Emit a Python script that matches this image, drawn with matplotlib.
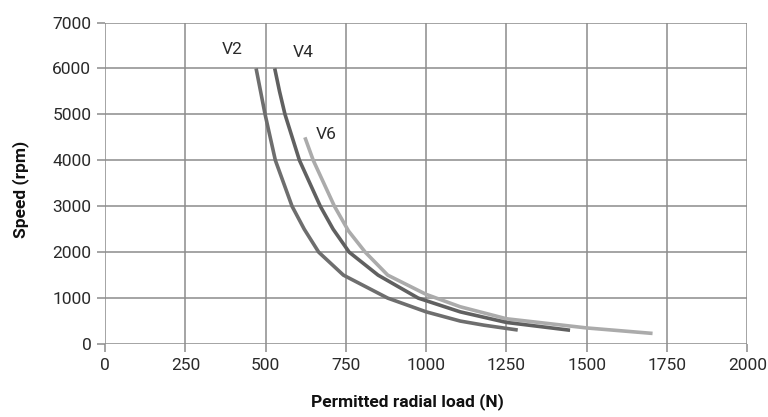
import matplotlib
matplotlib.use('Agg')
import matplotlib.pyplot as plt

# values
v2_load = [470, 484, 498, 530, 582, 620, 665, 742, 880, 1000, 1106, 1180, 1250, 1285]
v2_speed = [6000, 5500, 5000, 4000, 3000, 2500, 2000, 1500, 1000, 700, 500, 410, 340, 305]

v4_load = [528, 543, 560, 605, 670, 710, 760, 850, 975, 1106, 1250, 1448]
v4_speed = [6000, 5500, 5000, 4000, 3000, 2500, 2000, 1500, 1000, 700, 470, 300]

v6_load = [622, 648, 714, 758, 810, 880, 1000, 1106, 1250, 1500, 1705]
v6_speed = [4500, 4000, 3000, 2460, 2000, 1500, 1080, 811, 550, 350, 231]

x_ticks = [0, 250, 500, 750, 1000, 1250, 1500, 1750, 2000]
y_ticks = [0, 1000, 2000, 3000, 4000, 5000, 6000, 7000]

plt.rcParams['font.family'] = ['Roboto', 'DejaVu Sans']

fig = plt.figure(figsize=(7.68, 4.17), dpi=100)
ax = fig.add_axes([0.137, 0.175, 0.836, 0.771])

grid_col = '#8c8c8c'
ax.plot(v6_load, v6_speed, color='#ababab', lw=2.6, solid_capstyle='butt',
        solid_joinstyle='round', zorder=3)
ax.plot(v4_load, v4_speed, color='#606060', lw=2.6, solid_capstyle='butt',
        solid_joinstyle='round', zorder=4)
ax.plot(v2_load, v2_speed, color='#6e6e6e', lw=2.6, solid_capstyle='butt',
        solid_joinstyle='round', zorder=4)

ax.text(397, 6420, 'V2', fontsize=12.5, color='#2a2a2a', ha='center', va='center')
ax.text(616, 6350, 'V4', fontsize=12.5, color='#2a2a2a', ha='center', va='center')
ax.text(688, 4570, 'V6', fontsize=12.5, color='#2a2a2a', ha='center', va='center')

ax.set_xlim(0, 2000)
ax.set_ylim(0, 7000)
ax.set_xticks(x_ticks)
ax.set_yticks(y_ticks)
ax.grid(True, color=grid_col, lw=1.1)
ax.set_axisbelow(True)
for s in ax.spines.values():
    s.set_visible(False)
ax.tick_params(axis='both', length=6, width=1.1, color=grid_col,
               labelsize=12.5, labelcolor='#2a2a2a', pad=4)

fig.text(0.530, 0.037, 'Permitted radial load (N)', fontsize=12.5,
         fontweight='bold', ha='center', va='center', color='#111111')
fig.text(0.027, 0.545, 'Speed (rpm)', fontsize=12.5, fontweight='bold',
         rotation=90, ha='center', va='center', color='#111111')

fig.savefig('out.png', dpi=100, facecolor='white')
